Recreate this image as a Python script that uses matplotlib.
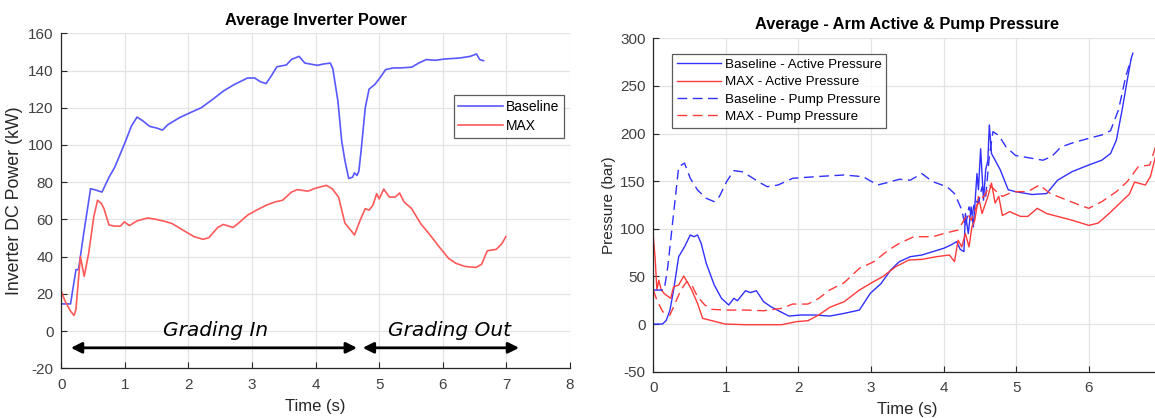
import numpy as np
import matplotlib
matplotlib.use("Agg")
import matplotlib.pyplot as plt

plt.rcParams['font.family'] = ['Liberation Sans', 'DejaVu Sans']
plt.rcParams['axes.unicode_minus'] = False

# ---- left chart: inverter power (kW) ----
t_base = [0, 0.145, 0.23, 0.27, 0.35, 0.46, 0.52, 0.64, 0.75, 0.84, 1.01, 1.10, 1.19, 1.28,
          1.39, 1.51, 1.59, 1.68, 1.86, 2.03, 2.20, 2.38, 2.55, 2.72, 2.93, 3.04, 3.13, 3.22,
          3.30, 3.39, 3.54, 3.62, 3.74, 3.83, 4.03, 4.12, 4.23, 4.27, 4.35, 4.41, 4.46, 4.52,
          4.58, 4.61, 4.65, 4.68, 4.72, 4.78, 4.84, 4.93, 5.01, 5.10, 5.22, 5.33, 5.51, 5.62,
          5.74, 5.88, 6.03, 6.26, 6.43, 6.53, 6.58, 6.64]
p_base = [14.6, 14.6, 33, 33, 52, 76.5, 76, 74.7, 82.7, 88, 102, 110, 115, 113,
          110, 109, 108, 111, 114.7, 117.4, 120, 124.5, 129, 132.5, 136, 136, 134, 133,
          137, 142, 143, 146, 147.6, 144, 142.8, 143.5, 144, 141, 123.6, 102, 91.6, 82,
          82.7, 85, 83.6, 86, 98.7, 120, 130, 132.5, 136, 140.5, 141.4, 141.4, 141.8, 144,
          145.9, 145.5, 146.2, 146.7, 147.6, 148.9, 145.9, 145.3]

t_max = [0, 0.06, 0.145, 0.20, 0.23, 0.26, 0.30, 0.36, 0.43, 0.51, 0.57, 0.63, 0.67, 0.75,
         0.84, 0.93, 0.99, 1.07, 1.19, 1.36, 1.48, 1.62, 1.74, 1.91, 2.09, 2.23, 2.32, 2.46,
         2.55, 2.70, 2.78, 2.93, 3.07, 3.22, 3.36, 3.48, 3.62, 3.71, 3.88, 4.0, 4.17, 4.26,
         4.36, 4.41, 4.46, 4.55, 4.61, 4.70, 4.78, 4.84, 4.90, 4.96, 5.0, 5.07, 5.16, 5.25,
         5.32, 5.39, 5.51, 5.65, 5.80, 5.94, 6.09, 6.20, 6.35, 6.52, 6.61, 6.70, 6.84, 6.93, 6.99]
p_max = [21.3, 16, 10.7, 8.4, 11.6, 24, 40, 29.4, 41.8, 61.4, 70.3, 68.5, 65.8, 57,
         56.4, 56.4, 58.7, 56.7, 59.2, 60.8, 60.1, 59, 57.8, 54.3, 50.7, 49.3, 50.2, 55.7,
         57.3, 55.7, 57.8, 62.3, 65, 67.6, 69.4, 70.3, 74.7, 76, 75.2, 76.8, 78.3, 76.5,
         72, 65, 58, 54.3, 51.6, 59.6, 65.8, 65, 67.6, 73.8, 71, 76.3, 72, 72,
         74.2, 69.4, 65.8, 57.8, 51.6, 45.4, 39.1, 36.5, 34.7, 34.2, 35.9, 43.2, 43.9, 47, 50.7]

# ---- right chart: pressures (bar) ----
t_ba = [0, 0.127, 0.18, 0.23, 0.28, 0.35, 0.43, 0.51, 0.56, 0.61, 0.66, 0.73, 0.84, 0.94,
        1.04, 1.11, 1.16, 1.27, 1.34, 1.42, 1.52, 1.62, 1.75, 1.87, 2.03, 2.23, 2.43, 2.63,
        2.84, 2.99, 3.14, 3.27, 3.39, 3.54, 3.70, 3.85, 4.0, 4.10, 4.18, 4.23, 4.28, 4.30,
        4.34, 4.38, 4.41, 4.46, 4.48, 4.51, 4.55, 4.58, 4.61, 4.63, 4.66, 4.71, 4.78, 4.89,
        4.99, 5.22, 5.42, 5.57, 5.77, 6.0, 6.18, 6.30, 6.38, 6.46, 6.53, 6.58]
p_ba = [0, 0, 4, 14.7, 35.7, 70.7, 81, 93.5, 91.7, 93.5, 84.7, 63.7, 41, 27,
        20, 27, 24.5, 35, 33, 35, 23.5, 18.2, 13, 8.4, 9.5, 9.5, 8.4, 11.2,
        14.7, 32.2, 42.7, 56.7, 65.5, 70.7, 72.5, 76, 79.5, 83, 86.5, 78.4, 76, 116,
        95, 123, 102, 158, 141, 184, 130, 162, 172, 209, 179, 172, 162, 141,
        139, 136, 137, 151, 160, 167, 172, 179, 193, 225, 256, 277]

t_ma = [0, 0.025, 0.05, 0.076, 0.11, 0.15, 0.24, 0.28, 0.35, 0.42, 0.48, 0.53, 0.61, 0.68,
        0.81, 0.99, 1.27, 1.77, 1.97, 2.13, 2.28, 2.43, 2.63, 2.84, 3.01, 3.16, 3.34, 3.52,
        3.70, 3.90, 4.08, 4.15, 4.20, 4.25, 4.30, 4.35, 4.39, 4.43, 4.48, 4.53, 4.61, 4.66,
        4.71, 4.76, 4.81, 4.91, 5.06, 5.16, 5.29, 5.42, 5.57, 5.77, 6.0, 6.13, 6.28, 6.43,
        6.56, 6.63, 6.78, 6.85, 6.92]
p_ma = [92, 70, 36, 46, 36, 32, 27, 39, 41, 50.4, 42.7, 35.7, 21.7, 6,
        3.5, 0, -0.7, -0.7, 2.5, 3.5, 9.5, 17.5, 23.5, 35.7, 43.4, 49.7, 60.2, 67.2,
        67.9, 70.7, 72.5, 65.5, 88, 81, 95, 81, 102, 109, 134, 116, 134, 148,
        127, 134, 114, 118, 113, 113, 121.5, 116, 113, 109, 103.6, 106, 116, 127,
        136.5, 149, 146, 155, 176]

t_bp = [0, 0.15, 0.2, 0.28, 0.35, 0.43, 0.51, 0.61, 0.73, 0.84, 0.91, 1.01, 1.11, 1.22,
        1.34, 1.47, 1.57, 1.72, 1.92, 2.23, 2.63, 2.89, 3.09, 3.22, 3.39, 3.54, 3.70, 3.85,
        4.05, 4.15, 4.25, 4.30, 4.35, 4.39, 4.43, 4.48, 4.53, 4.58, 4.63, 4.68, 4.76, 4.86,
        4.99, 5.14, 5.37, 5.49, 5.62, 5.77, 6.0, 6.18, 6.30, 6.41, 6.51, 6.61]
p_bp = [35.7, 35.7, 60, 116, 165, 169, 153, 140.7, 132, 128.5, 133.7, 149.5, 161, 160,
        154.7, 148.4, 144.2, 146, 153, 154.7, 156.5, 154.7, 146, 148.4, 152, 151, 158, 149.5,
        144, 137, 120, 102, 123, 113, 130, 127, 144, 134, 176, 202, 198, 186,
        177, 175, 172, 176, 186, 190, 195, 198.5, 203, 225, 260, 285]

t_mp = [0, 0.05, 0.13, 0.23, 0.30, 0.38, 0.46, 0.53, 0.61, 0.71, 0.81, 1.01, 1.27, 1.52,
        1.77, 1.92, 2.13, 2.28, 2.43, 2.63, 2.84, 3.04, 3.24, 3.39, 3.59, 3.85, 4.05, 4.20,
        4.28, 4.33, 4.38, 4.46, 4.51, 4.58, 4.63, 4.73, 4.81, 4.96, 5.16, 5.32, 5.47, 5.67,
        5.87, 6.0, 6.18, 6.38, 6.53, 6.68, 6.84, 6.92]
p_mp = [35.7, 25, 13, 9.5, 21.7, 35.7, 44.5, 41, 28.7, 20, 15.4, 14.7, 14.7, 14,
        16.5, 21, 21, 27, 35.7, 43.4, 58.5, 65.5, 77.7, 84.7, 91.7, 91.7, 96, 98.7,
        109, 116, 109, 125, 130, 137, 146, 139, 134, 139, 139, 146, 137, 131,
        125, 121.5, 128.5, 139, 149.5, 165, 167, 186]

blue_l = '#5858ff'
red_l = '#ff5a5a'
blue_r = '#3030ff'
red_r = '#ff3a3a'
txt = '#262626'


def style(ax):
    ax.grid(True, color='#e3e3e3', linewidth=0.9)
    ax.set_axisbelow(True)
    for s in ['top', 'right']:
        ax.spines[s].set_visible(False)
    for s in ['left', 'bottom']:
        ax.spines[s].set_color('#262626')
        ax.spines[s].set_linewidth(0.9)
    ax.tick_params(direction='in', length=4, width=0.8, colors='#262626',
                   labelsize=11, labelcolor='#404040')
    ax.tick_params(axis='x', pad=7)
    ax.tick_params(axis='y', pad=5.5)


fig = plt.figure(figsize=(11.55, 4.18), dpi=100)

ax1 = fig.add_axes([0.0531, 0.1189, 0.4404, 0.8014])
style(ax1)
ax1.plot(t_base, p_base, color=blue_l, lw=1.2, label='Baseline')
ax1.plot(t_max, p_max, color=red_l, lw=1.2, label='MAX')
ax1.set_xlim(0, 8)
ax1.set_ylim(-20, 160)
ax1.set_xticks(range(0, 9))
ax1.set_yticks(range(-20, 161, 20))
ax1.set_xlabel('Time (s)', fontsize=12, color=txt, labelpad=5)
ax1.set_ylabel('Inverter DC Power (kW)', fontsize=12.8, color=txt, labelpad=4)
ax1.set_title('Average Inverter Power', fontsize=11.8, fontweight='bold', pad=6)
leg1 = ax1.legend(loc='upper right', bbox_to_anchor=(0.988, 0.816), fontsize=10,
                  fancybox=False, edgecolor='#333333', handlelength=3.2,
                  handletextpad=0.2, borderaxespad=0, borderpad=0.35, labelspacing=0.37)
leg1.get_frame().set_linewidth(0.9)

ax1.annotate('', xy=(4.65, -9), xytext=(0.15, -9),
             arrowprops=dict(arrowstyle='<|-|>', color='black', lw=2, mutation_scale=16,
                             shrinkA=0, shrinkB=0))
ax1.annotate('', xy=(7.2, -9), xytext=(4.74, -9),
             arrowprops=dict(arrowstyle='<|-|>', color='black', lw=2, mutation_scale=16,
                             shrinkA=0, shrinkB=0))
ax1.text(2.42, 0.2, 'Grading In', fontsize=14.5, style='italic', family='DejaVu Sans',
         ha='center', va='center')
ax1.text(6.1, 0.2, 'Grading Out', fontsize=14.5, style='italic', family='DejaVu Sans',
         ha='center', va='center')

ax2 = fig.add_axes([0.5656, 0.1108, 0.4399, 0.7976])
style(ax2)
ax2.plot(t_ba, p_ba, color=blue_r, lw=1.0, label='Baseline - Active Pressure')
ax2.plot(t_ma, p_ma, color=red_r, lw=1.0, label='MAX - Active Pressure')
ax2.plot(t_bp, p_bp, color=blue_r, lw=1.0, ls=(0, (7, 4)), label='Baseline - Pump Pressure')
ax2.plot(t_mp, p_mp, color=red_r, lw=1.0, ls=(0, (7, 4)), label='MAX - Pump Pressure')
ax2.set_xlim(0, 7)
ax2.set_ylim(-50, 300)
ax2.set_xticks(range(0, 7))
ax2.set_yticks(range(-50, 301, 50))
ax2.set_xlabel('Time (s)', fontsize=12, color=txt, labelpad=5)
ax2.set_ylabel('Pressure (bar)', fontsize=11, color=txt, labelpad=3)
ax2.set_title('Average - Arm Active & Pump Pressure', fontsize=11.8, fontweight='bold', pad=7)
leg2 = ax2.legend(loc='upper left', bbox_to_anchor=(0.0374, 0.953), fontsize=9.6,
                  fancybox=False, edgecolor='#333333', handlelength=3.3,
                  handletextpad=0.3, borderaxespad=0, borderpad=0.35, labelspacing=0.375)
leg2.get_frame().set_linewidth(0.9)

fig.savefig('out.png', dpi=100)
